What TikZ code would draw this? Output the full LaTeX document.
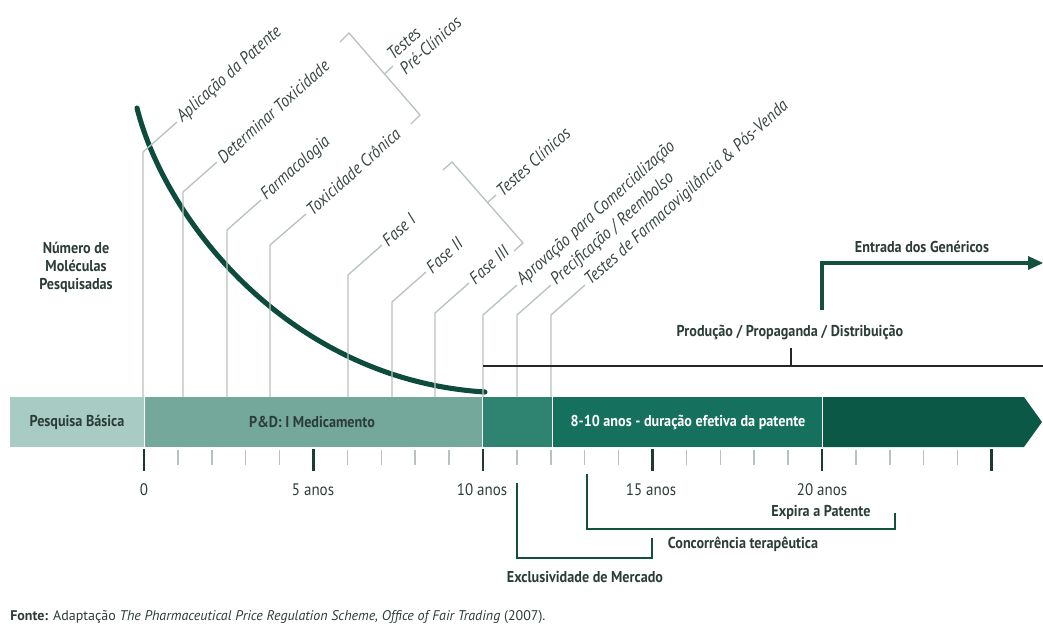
\documentclass[tikz,border=0pt]{standalone}
\usepackage{fontspec}
\setmainfont{PT Sans}[FakeStretch=0.9]
\newfontfamily\srcfont{PT Sans}
\usepackage{tikz}

\definecolor{barA}{HTML}{A8CCC3}
\definecolor{barB}{HTML}{73A89A}
\definecolor{barC}{HTML}{2E8471}
\definecolor{barD}{HTML}{16705E}
\definecolor{barE}{HTML}{0B5846}
\definecolor{curvegreen}{HTML}{0D4C3C}
\definecolor{darkgreen}{HTML}{154F40}
\definecolor{tickdark}{HTML}{1E3B33}
\definecolor{ticklight}{HTML}{B9C2BF}
\definecolor{leadgray}{HTML}{B8C2BE}
\definecolor{labtext}{HTML}{38463F}
\definecolor{boldtext}{HTML}{2C3D37}

\begin{document}
\begin{tikzpicture}[x=0.75pt,y=-0.75pt]
\tikzstyle{every node}+=[inner sep=0pt]
\tikzstyle{leader}=[draw=leadgray, line width=1pt]
\tikzstyle{rlabel}=[anchor=west, rotate=42, inner sep=2.5pt, text=labtext, font=\fontsize{13.2}{15}\selectfont\itshape]
\tikzstyle{blabel}=[text=boldtext, font=\fontsize{11.8}{13.5}\selectfont\bfseries]
\tikzstyle{ticklabel}=[text=boldtext, font=\fontsize{12.5}{14}\selectfont]
\tikzstyle{bracket}=[draw=darkgreen, line width=2.2pt]
\useasboundingbox (0,0) rectangle (1043,633);

% the time bar
\fill [barA] (10,397) rectangle (144,447);
\fill [barB] (144,397) rectangle (482,447);
\fill [barC] (482,397) rectangle (552,447);
\fill [barD] (552,397) rectangle (822,447);
\fill [barE] (822,397) -- (1024,397) -- (1042,422) -- (1024,447) -- (822,447) -- cycle;
\draw [white, line width=0.6pt] (144,397) -- (144,447);
\draw [white, line width=0.6pt] (482,397) -- (482,447);
\draw [white, line width=0.6pt] (552,397) -- (552,447);
\draw [white, line width=0.6pt] (822,397) -- (822,447);
\node [blabel] (pesq) at (77,422) {Pesquisa Básica};
\node [blabel] (ped) at (312,422) {P\&D: I Medicamento};
\node [blabel, text=white] (patente) at (688,422) {8-10 anos - duração efetiva da patente};

% years
\foreach \i in {0,...,25}
  \draw [ticklight, line width=1.1pt] ({144+33.9*\i},450) -- ({144+33.9*\i},465);
\foreach \i in {0,5,...,25}
  \draw [tickdark, line width=2.2pt] ({144+33.9*\i},449) -- ({144+33.9*\i},471);
\node [ticklabel] (y0) at (144,490) {0};
\node [ticklabel] (y5) at (313,490) {5 anos};
\node [ticklabel] (y10) at (482,490) {10 anos};
\node [ticklabel] (y15) at (651,490) {15 anos};
\node [ticklabel] (y20) at (822,490) {20 anos};

% molecules
\node [blabel, align=center] (mol) at (76,267) {Número de\\Moléculas\\Pesquisadas};
\draw [curvegreen, line width=3.8pt, line cap=round] (137,108) .. controls (165,220) and (290,380) .. (485,392);

% stages
\coordinate (b1) at (143,397);
\coordinate (t1) at (143,152);
\node [rlabel] (aplic) at (177,122) {Aplicação da Patente};
\draw [leader] (b1) -- (t1) -- (aplic.west);
\coordinate (b2) at (183,397);
\coordinate (t2) at (183,192);
\node [rlabel] (detox) at (217,162) {Determinar Toxicidade};
\draw [leader] (b2) -- (t2) -- (detox.west);
\coordinate (b3) at (227,397);
\coordinate (t3) at (227,230);
\node [rlabel] (farm) at (261,200) {Farmacologia};
\draw [leader] (b3) -- (t3) -- (farm.west);
\coordinate (b4) at (270,397);
\coordinate (t4) at (270,245);
\node [rlabel] (toxcr) at (306,214) {Toxicidade Crônica};
\draw [leader] (b4) -- (t4) -- (toxcr.west);
\coordinate (b5) at (348,397);
\coordinate (t5) at (348,275);
\node [rlabel] (fase1) at (382,245) {Fase I};
\draw [leader] (b5) -- (t5) -- (fase1.west);
\coordinate (b6) at (392,397);
\coordinate (t6) at (392,302);
\node [rlabel] (fase2) at (426,272) {Fase II};
\draw [leader] (b6) -- (t6) -- (fase2.west);
\coordinate (b7) at (435,397);
\coordinate (t7) at (435,313);
\node [rlabel] (fase3) at (469,283) {Fase III};
\draw [leader] (b7) -- (t7) -- (fase3.west);
\coordinate (b8) at (483,397);
\coordinate (t8) at (483,315);
\node [rlabel] (aprov) at (517,285) {Aprovação para Comercialização};
\draw [leader] (b8) -- (t8) -- (aprov.west);
\coordinate (b9) at (517,397);
\coordinate (t9) at (517,315);
\node [rlabel] (preco) at (551,285) {Precificação / Reembolso};
\draw [leader] (b9) -- (t9) -- (preco.west);
\coordinate (b10) at (551,397);
\coordinate (t10) at (551,315);
\node [rlabel] (farmv) at (585,285) {Testes de Farmacovigilância \& Pós-Venda};
\draw [leader] (b10) -- (t10) -- (farmv.west);

% test groups
\coordinate (pcA) at (349,33);
\coordinate (pcB) at (420,115);
\coordinate (pcM) at (384.5,74);
\node [rlabel, align=left, font=\fontsize{13.2}{14.5}\selectfont\itshape] (precl) at (393,66) {Testes\\Pré-Clínicos};
\draw [leader] (340,42) -- (pcA) -- (pcB) -- (411,124);
\draw [leader] (pcM) -- (precl.west);
\coordinate (clA) at (452,162);
\coordinate (clB) at (523,243);
\coordinate (clM) at (487.5,202.5);
\node [rlabel] (clin) at (496,195) {Testes Clínicos};
\draw [leader] (443,170) -- (clA) -- (clB) -- (514,251);
\draw [leader] (clM) -- (clin.west);

% market
\coordinate (prodL) at (483,366);
\coordinate (prodR) at (1043,366);
\coordinate (prodT) at (791,348);
\node [blabel] (prod) at (790,332) {Produção / Propaganda / Distribuição};
\draw [black!85, line width=1.3pt] (prodL) -- (prodR);
\draw [black!85, line width=1.3pt] (prodT) -- (791,366);
\coordinate (genS) at (822,310);
\coordinate (genE) at (1030,263);
\node [blabel] (gen) at (922,247) {Entrada dos Genéricos};
\draw [darkgreen, line width=2.6pt] (genS) |- (genE);
\fill [darkgreen] (1043,263) -- (1028,256) -- (1028,270) -- cycle;

% patent periods
\coordinate (exA) at (517,483);
\coordinate (exC) at (652,558);
\coordinate (exB) at (652,538);
\node [blabel] (excl) at (585,577) {Exclusividade de Mercado};
\draw [bracket] (exA) |- (exC) -- (exB);
\node [blabel] (conc) at (743,544) {Concorrência terapêutica};
\coordinate (paA) at (587,474);
\coordinate (paC) at (895,529);
\coordinate (paB) at (895,513);
\node [blabel] (expira) at (821,512) {Expira a Patente};
\draw [bracket] (paA) |- (paC) -- (paB);

% source
\node [anchor=west, text=boldtext, font=\srcfont\fontsize{10.5}{12}\selectfont] (fonte) at (10,617) {\textbf{Fonte:} Adaptação \textit{The Pharmaceutical Price Regulation Scheme, Office of Fair Trading} (2007).};
\end{tikzpicture}
\end{document}
